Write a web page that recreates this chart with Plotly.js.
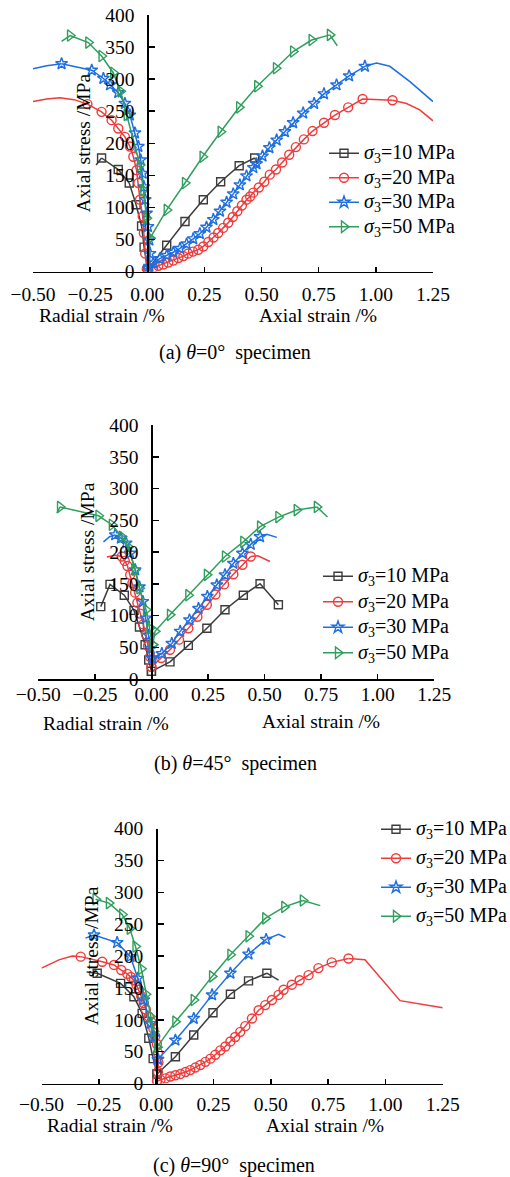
<!DOCTYPE html>
<html><head><meta charset="utf-8">
<script src="https://cdn.plot.ly/plotly-3.0.1.min.js"></script>
<style>html,body{margin:0;padding:0;background:#fff}#chart{width:510px;height:1177px}</style>
</head><body><div id="chart"></div>
<script>
// ---------- DATA (strain in %, stress in MPa; radial strain plotted negative) ----------
const seriesNames = ['<i>σ</i><sub>3</sub>=10 MPa', '<i>σ</i><sub>3</sub>=20 MPa', '<i>σ</i><sub>3</sub>=30 MPa', '<i>σ</i><sub>3</sub>=50 MPa'];
const panelCaptions = ['(a) <i>θ</i>=0°\u00a0\u00a0specimen', '(b) <i>θ</i>=45°\u00a0\u00a0specimen', '(c) <i>θ</i>=90°\u00a0\u00a0specimen'];
const xTickVals = [-0.5, -0.25, 0, 0.25, 0.5, 0.75, 1.0, 1.25];
const yTickVals = [0, 50, 100, 150, 200, 250, 300, 350, 400];

// Panel (a) theta = 0
const a10_rad_x = [0.002, -0.014, -0.025, -0.049, -0.079, -0.127, -0.200];
const a10_rad_y = [3, 38, 71, 104, 138, 159, 177];
const a10_rad_tx = [-0.224], a10_rad_ty = [166];
const a10_ax_x = [0.002, 0.085, 0.165, 0.245, 0.321, 0.402, 0.470];
const a10_ax_y = [3, 41, 78, 112, 140, 165, 177];
const a10_ax_tx = [0.485], a10_ax_ty = [168];

const a20_rad_x = [-0.002, -0.009, -0.015, -0.020, -0.032, -0.039, -0.047, -0.061, -0.076, -0.098, -0.127, -0.156, -0.200, -0.262];
const a20_rad_y = [4, 28, 60, 86, 112, 138, 158, 179, 195, 210, 223, 236, 249, 261];
const a20_rad_tx = [-0.320, -0.382, -0.440, -0.500], a20_rad_ty = [268, 271, 269, 265];
const a20_ax_x = [0.004, 0.026, 0.048, 0.070, 0.092, 0.114, 0.136, 0.158, 0.179, 0.200, 0.223, 0.245, 0.267, 0.290, 0.310, 0.332, 0.354, 0.374, 0.394, 0.414, 0.434, 0.450, 0.464, 0.488, 0.512, 0.536, 0.563, 0.590, 0.621, 0.650, 0.685, 0.723, 0.773, 0.821, 0.879, 0.942, 1.073];
const a20_ax_y = [3, 6, 9, 11, 14, 17, 21, 24, 28, 31, 34, 39, 46, 53, 60, 68, 76, 85, 94, 103, 112, 117, 123, 131, 140, 151, 159, 170, 182, 194, 206, 219, 232, 244, 256, 269, 267];
const a20_ax_tx = [1.134, 1.192, 1.250], a20_ax_ty = [262, 252, 235];

const a30_rad_x = [0.009, 0.012, 0.009, 0.003, -0.003, -0.009, -0.015, -0.020, -0.029, -0.039, -0.054, -0.076, -0.098, -0.127, -0.163, -0.192, -0.243, -0.375];
const a30_rad_y = [8, 28, 49, 70, 91, 112, 132, 153, 174, 195, 216, 244, 262, 279, 291, 301, 314, 324];
const a30_rad_tx = [-0.440, -0.500], a30_rad_ty = [321, 316];
const a30_ax_x = [0.005, 0.026, 0.055, 0.085, 0.114, 0.143, 0.172, 0.201, 0.230, 0.259, 0.289, 0.318, 0.347, 0.376, 0.405, 0.434, 0.464, 0.478, 0.504, 0.534, 0.566, 0.602, 0.638, 0.682, 0.730, 0.773, 0.828, 0.883, 0.952];
const a30_ax_y = [5, 13, 20, 25, 30, 36, 43, 51, 59, 69, 81, 94, 108, 121, 135, 149, 162, 168, 180, 193, 205, 218, 232, 247, 262, 277, 291, 305, 320];
const a30_ax_tx = [1.003, 1.061, 1.149, 1.250], a30_ax_ty = [325, 320, 296, 265];

const a50_rad_x = [0.012, -0.003, -0.017, -0.032, -0.090, -0.117, -0.149, -0.200, -0.258, -0.338];
const a50_rad_y = [52, 83, 127, 166, 244, 281, 310, 336, 357, 368];
const a50_rad_tx = [-0.375], a50_rad_ty = [359];
const a50_ax_x = [0.012, 0.085, 0.165, 0.242, 0.321, 0.402, 0.481, 0.563, 0.638, 0.719, 0.799];
const a50_ax_y = [52, 96, 138, 179, 218, 256, 289, 317, 343, 361, 369];
const a50_ax_tx = [0.831], a50_ax_ty = [352];

// Panel (b) theta = 45
const b10_rad_x = [0.000, -0.012, -0.028, -0.053, -0.077, -0.120, -0.183, -0.224];
const b10_rad_y = [12, 30, 54, 82, 108, 132, 149, 114];
const b10_rad_tx = [], b10_rad_ty = [];
const b10_ax_x = [0.000, 0.082, 0.163, 0.245, 0.325, 0.406, 0.480, 0.561];
const b10_ax_y = [12, 27, 53, 80, 109, 132, 150, 117];
const b10_ax_tx = [], b10_ax_ty = [];

const b20_rad_x = [0.000, -0.006, -0.015, -0.024, -0.036, -0.050, -0.062, -0.072, -0.084, -0.094, -0.106, -0.118, -0.131];
const b20_rad_y = [19, 35, 52, 70, 86, 103, 120, 136, 151, 164, 178, 186, 193];
const b20_rad_tx = [-0.160, -0.197], b20_rad_ty = [195, 192];
const b20_ax_x = [0.000, 0.043, 0.082, 0.122, 0.163, 0.203, 0.245, 0.283, 0.321, 0.362, 0.402, 0.439];
const b20_ax_y = [19, 33, 46, 62, 80, 98, 117, 133, 149, 165, 180, 193];
const b20_ax_tx = [0.470, 0.524], b20_ax_ty = [194, 185];

const b30_rad_x = [0.004, -0.003, -0.013, -0.024, -0.038, -0.053, -0.072, -0.094, -0.112, -0.135, -0.160];
const b30_rad_y = [33, 48, 69, 96, 122, 145, 172, 198, 214, 222, 227];
const b30_rad_tx = [-0.185, -0.212], b30_rad_ty = [224, 216];
const b30_ax_x = [0.004, 0.046, 0.090, 0.127, 0.168, 0.208, 0.247, 0.289, 0.325, 0.362, 0.402, 0.439, 0.480];
const b30_ax_y = [33, 40, 56, 75, 93, 111, 130, 148, 164, 182, 198, 212, 224];
const b30_ax_tx = [0.510, 0.554], b30_ax_ty = [228, 223];

const b50_rad_x = [0.006, -0.009, -0.024, -0.053, -0.072, -0.102, -0.131, -0.175, -0.234, -0.404];
const b50_rad_y = [54, 80, 109, 143, 172, 208, 224, 243, 257, 271];
const b50_rad_tx = [-0.418], b50_rad_ty = [261];
const b50_ax_x = [0.006, 0.016, 0.082, 0.163, 0.245, 0.325, 0.406, 0.480, 0.561, 0.642, 0.731];
const b50_ax_y = [54, 75, 101, 132, 164, 193, 216, 240, 255, 266, 271];
const b50_ax_tx = [0.778], b50_ax_ty = [255];

// Panel (c) theta = 90
const c10_rad_x = [0.004, -0.013, -0.032, -0.061, -0.097, -0.155, -0.257];
const c10_rad_y = [15, 39, 71, 110, 136, 157, 173];
const c10_rad_tx = [-0.303], c10_rad_ty = [175];
const c10_ax_x = [0.004, 0.084, 0.164, 0.248, 0.324, 0.403, 0.483];
const c10_ax_y = [15, 42, 76, 111, 140, 161, 173];
const c10_ax_tx = [0.534], c10_ax_ty = [162];

const c20_rad_x = [0.004, 0.008, 0.010, 0.008, 0.003, -0.004, -0.012, -0.020, -0.032, -0.045, -0.054, -0.065, -0.075, -0.086, -0.097, -0.110, -0.126, -0.152, -0.184, -0.235, -0.329];
const c20_rad_y = [4, 18, 33, 48, 62, 74, 86, 96, 105, 116, 126, 137, 147, 155, 162, 167, 172, 178, 186, 191, 199];
const c20_rad_tx = [-0.366, -0.424, -0.500], c20_rad_ty = [200, 194, 181];
const c20_ax_x = [0.004, 0.019, 0.041, 0.062, 0.084, 0.106, 0.128, 0.149, 0.171, 0.193, 0.215, 0.237, 0.258, 0.280, 0.302, 0.324, 0.345, 0.367, 0.389, 0.418, 0.447, 0.476, 0.505, 0.534, 0.556, 0.592, 0.626, 0.665, 0.708, 0.766, 0.839];
const c20_ax_y = [4, 6, 8, 11, 13, 15, 18, 21, 25, 29, 34, 39, 45, 52, 58, 66, 73, 81, 90, 102, 115, 123, 131, 139, 147, 155, 162, 170, 181, 190, 196];
const c20_ax_tx = [0.911, 1.064, 1.250], c20_ax_ty = [194, 130, 119];

const c30_rad_x = [0.008, -0.010, -0.025, -0.054, -0.080, -0.112, -0.170, -0.271];
const c30_rad_y = [38, 73, 94, 131, 165, 199, 221, 233];
const c30_rad_tx = [-0.308], c30_rad_ty = [228];
const c30_ax_x = [0.008, 0.084, 0.164, 0.244, 0.324, 0.403, 0.480];
const c30_ax_y = [38, 68, 102, 139, 173, 203, 226];
const c30_ax_tx = [0.534, 0.564], c30_ax_ty = [234, 229];

const c50_rad_x = [0.004, -0.010, -0.025, -0.045, -0.065, -0.090, -0.115, -0.148, -0.206, -0.264];
const c50_rad_y = [57, 82, 105, 140, 180, 215, 243, 265, 283, 289];
const c50_rad_tx = [], c50_rad_ty = [];
const c50_ax_x = [0.004, 0.084, 0.164, 0.244, 0.324, 0.403, 0.476, 0.559, 0.640];
const c50_ax_y = [57, 97, 131, 168, 202, 231, 259, 277, 287];
const c50_ax_tx = [0.716], c50_ax_ty = [279];

// ---------- ASSEMBLY ----------
const panelSeries = [
  [[a10_rad_x, a10_rad_y, a10_rad_tx, a10_rad_ty, a10_ax_x, a10_ax_y, a10_ax_tx, a10_ax_ty],
   [a20_rad_x, a20_rad_y, a20_rad_tx, a20_rad_ty, a20_ax_x, a20_ax_y, a20_ax_tx, a20_ax_ty],
   [a30_rad_x, a30_rad_y, a30_rad_tx, a30_rad_ty, a30_ax_x, a30_ax_y, a30_ax_tx, a30_ax_ty],
   [a50_rad_x, a50_rad_y, a50_rad_tx, a50_rad_ty, a50_ax_x, a50_ax_y, a50_ax_tx, a50_ax_ty]],
  [[b10_rad_x, b10_rad_y, b10_rad_tx, b10_rad_ty, b10_ax_x, b10_ax_y, b10_ax_tx, b10_ax_ty],
   [b20_rad_x, b20_rad_y, b20_rad_tx, b20_rad_ty, b20_ax_x, b20_ax_y, b20_ax_tx, b20_ax_ty],
   [b30_rad_x, b30_rad_y, b30_rad_tx, b30_rad_ty, b30_ax_x, b30_ax_y, b30_ax_tx, b30_ax_ty],
   [b50_rad_x, b50_rad_y, b50_rad_tx, b50_rad_ty, b50_ax_x, b50_ax_y, b50_ax_tx, b50_ax_ty]],
  [[c10_rad_x, c10_rad_y, c10_rad_tx, c10_rad_ty, c10_ax_x, c10_ax_y, c10_ax_tx, c10_ax_ty],
   [c20_rad_x, c20_rad_y, c20_rad_tx, c20_rad_ty, c20_ax_x, c20_ax_y, c20_ax_tx, c20_ax_ty],
   [c30_rad_x, c30_rad_y, c30_rad_tx, c30_rad_ty, c30_ax_x, c30_ax_y, c30_ax_tx, c30_ax_ty],
   [c50_rad_x, c50_rad_y, c50_rad_tx, c50_rad_ty, c50_ax_x, c50_ax_y, c50_ax_tx, c50_ax_ty]]
];

const W = 510, H = 1177;
const FONT = '"Liberation Serif","Times New Roman",Times,serif';
const FS = 19.5;
const colors = ['#3c3c3c', '#ef3b3b', '#1f6fe0', '#2f9f5c'];
const symbols = ['square-open', 'circle-open', 'star-open', 'triangle-right-open'];
const msize = [8, 9, 9, 10];
// pixel geometry of each panel: x-axis from -0.5 to 1.25, y-axis 0..400
const geom = [
  {x0: 33, x1: 433, yb: 271.5, yt: 15, xso: 5, leg: {x: 324, y: 137, gap: 2}, radT: [102, 315], axT: [318, 315], cap: [235, 352]},
  {x0: 38.3, x1: 434.3, yb: 679, yt: 425, xso: -3, leg: {x: 318, y: 560, gap: 3}, radT: [106, 723], axT: [321, 722], cap: [235, 763]},
  {x0: 41.5, x1: 442.7, yb: 1083.5, yt: 828.5, xso: 3, leg: {x: 376, y: 813, gap: 6.5}, radT: [110, 1125], axT: [325, 1125], cap: [234, 1165]}
];

const traces = [];
const layout = {
  width: W, height: H,
  margin: {l: 0, r: 0, t: 0, b: 0, autoexpand: false},
  paper_bgcolor: '#fff', plot_bgcolor: 'rgba(0,0,0,0)',
  font: {family: FONT, size: FS, color: '#000'},
  showlegend: true,
  annotations: []
};

panelSeries.forEach((series, p) => {
  const sfx = p === 0 ? '' : String(p + 1);
  const legId = p === 0 ? 'legend' : 'legend' + (p + 1);
  series.forEach((d, s) => {
    const [rx, ry, rtx, rty, ax, ay, atx, aty] = d;
    const common = {
      xaxis: 'x' + sfx, yaxis: 'y' + sfx, legend: legId,
      legendgroup: 'p' + p + 's' + s,
      name: '<span style="font-size:20px">' + seriesNames[s] + '</span>',
      line: {color: colors[s], width: 1.5}, hoverinfo: 'x+y'
    };
    const mk = {symbol: symbols[s], size: msize[s], color: colors[s], line: {color: colors[s], width: 1.4}};
    [[rx, ry, rtx, rty], [ax, ay, atx, aty]].forEach(([x, y, tx, ty], b) => {
      if (tx.length) {
        traces.push(Object.assign({}, common, {
          type: 'scatter', mode: 'lines', showlegend: false,
          x: [x[x.length - 1]].concat(tx), y: [y[y.length - 1]].concat(ty)
        }));
      }
      traces.push(Object.assign({}, common, {
        type: 'scatter', mode: 'lines+markers', marker: mk,
        showlegend: b === 1, x: x, y: y
      }));
    });
  });

  const g = geom[p];
  const xd = [g.x0 / W, g.x1 / W];
  const yd = [1 - g.yb / H, 1 - g.yt / H];
  layout['xaxis' + sfx] = {
    domain: xd, range: [-0.5, 1.25], anchor: 'y' + sfx,
    tickvals: xTickVals, tickformat: '.2f',
    ticks: 'inside', ticklen: 5, tickwidth: 1.5, tickcolor: '#000',
    showline: true, linewidth: 1.5, linecolor: '#000',
    showgrid: false, zeroline: false, ticklabelstandoff: g.xso,
    tickfont: {size: FS, family: FONT, color: '#000'}, fixedrange: true
  };
  layout['yaxis' + sfx] = {
    domain: yd, range: [0, 400], anchor: 'free',
    position: (g.x0 + (g.x1 - g.x0) * 0.5 / 1.75) / W,
    tickvals: yTickVals, ticks: 'inside', ticklen: 6, tickwidth: 1.5, tickcolor: '#000',
    showline: true, linewidth: 1.5, linecolor: '#000',
    showgrid: false, zeroline: false, ticklabelstandoff: 9,
    tickfont: {size: FS, family: FONT, color: '#000'},
    title: {text: 'Axial stress /MPa', standoff: 8, font: {size: FS, family: FONT, color: '#000'}},
    fixedrange: true
  };
  layout[legId] = {
    x: g.leg.x / W, y: 1 - g.leg.y / H, xanchor: 'left', yanchor: 'top',
    bgcolor: 'rgba(0,0,0,0)', borderwidth: 0, tracegroupgap: g.leg.gap,
    font: {size: 15, family: FONT, color: '#000'}
  };
  layout.annotations.push(
    {text: 'Radial strain /%', x: g.radT[0] / W, y: 1 - g.radT[1] / H, xref: 'paper', yref: 'paper', showarrow: false, xanchor: 'center', yanchor: 'middle', font: {size: FS}},
    {text: 'Axial strain /%', x: g.axT[0] / W, y: 1 - g.axT[1] / H, xref: 'paper', yref: 'paper', showarrow: false, xanchor: 'center', yanchor: 'middle', font: {size: FS}},
    {text: panelCaptions[p], x: g.cap[0] / W, y: 1 - g.cap[1] / H, xref: 'paper', yref: 'paper', showarrow: false, xanchor: 'center', yanchor: 'middle', font: {size: 20}}
  );
});

Plotly.newPlot('chart', traces, layout, {displayModeBar: false, staticPlot: true});
</script>
</body></html>
